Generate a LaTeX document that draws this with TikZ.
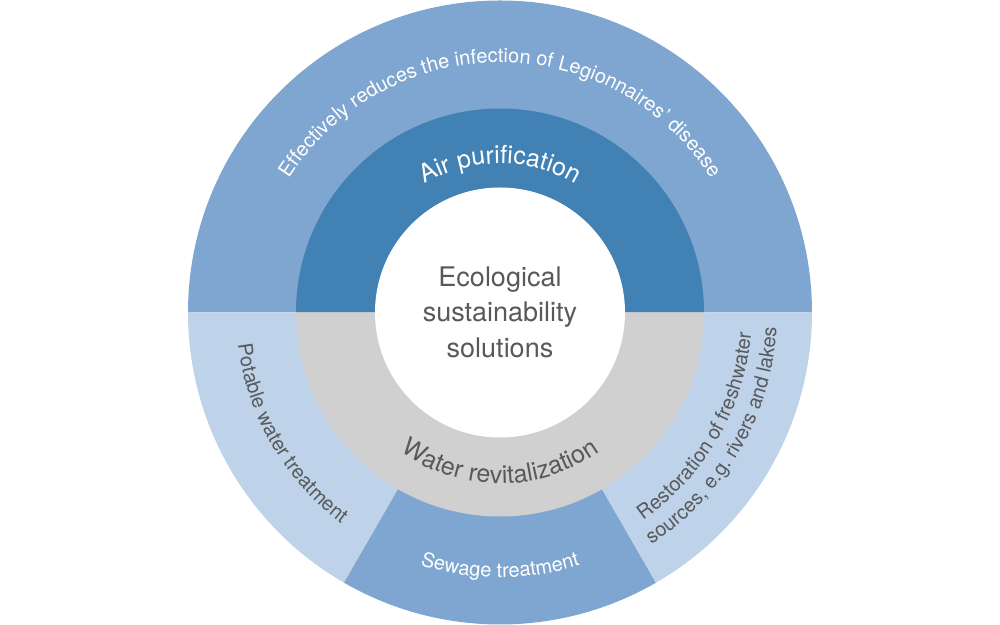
\documentclass[tikz,border=0pt]{standalone}
\usepackage{fontspec}
\setmainfont{TeX Gyre Heros}
\usetikzlibrary{decorations.text}

\definecolor{ringblue}{RGB}{127,166,208}
\definecolor{airblue}{RGB}{66,129,180}
\definecolor{paleblue}{RGB}{190,211,233}
\definecolor{watergray}{RGB}{208,208,208}
\definecolor{txtgray}{RGB}{88,89,91}

\newcommand{\ringfont}{\fontsize{10}{12}\selectfont}
\newcommand{\midfont}{\fontsize{12.5}{15}\selectfont}
\newcommand{\hubfont}{\fontsize{13.5}{17.7}\selectfont}

\begin{document}
\begin{tikzpicture}[x=0.5pt, y=0.5pt,
    arctext/.style={decorate, decoration={text along path, text align=center, text color=#1}}]
    \useasboundingbox (-500,-312.5) rectangle (500,312.5);

    % outer ring
    \fill[ringblue] (0,0) -- (0:312) arc[start angle=0, end angle=180, radius=312] -- cycle;
    \fill[paleblue] (0,0) -- (180:312) arc[start angle=180, end angle=240, radius=312] -- cycle;
    \fill[ringblue] (0,0) -- (240:312) arc[start angle=240, end angle=300, radius=312] -- cycle;
    \fill[paleblue] (0,0) -- (300:312) arc[start angle=300, end angle=360, radius=312] -- cycle;

    % middle ring
    \fill[airblue] (0,0) -- (0:204) arc[start angle=0, end angle=180, radius=204] -- cycle;
    \fill[watergray] (0,0) -- (180:204) arc[start angle=180, end angle=360, radius=204] -- cycle;

    % hub
    \fill[white] (0,0) circle[radius=125];
    \node[align=center, text=txtgray, font=\hubfont] (hub) at (0,0.5)
        {Ecological\\sustainability\\solutions};

    % middle labels
    \path[arctext=white, decoration={text={|\midfont|Air purification}}]
        (160:149) arc[start angle=160, end angle=20, radius=149];
    \path[arctext=txtgray, decoration={text={|\midfont|Water revitalization}}]
        (200:171) arc[start angle=200, end angle=340, radius=171];

    % outer labels
    \path[arctext=white, decoration={text={|\ringfont|Effectively reduces the infection of Legionnaires’ disease}}]
        (170:250) arc[start angle=170, end angle=10, radius=250];
    \path[arctext=txtgray, decoration={text={|\ringfont|Potable water treatment}}]
        (180:264) arc[start angle=180, end angle=240, radius=264];
    \path[arctext=white, decoration={text={|\ringfont|Sewage treatment}}]
        (240:265) arc[start angle=240, end angle=300, radius=265];
    \path[arctext=txtgray, decoration={text={|\ringfont|Restoration of freshwater}}]
        (300:252) arc[start angle=300, end angle=360, radius=252];
    \path[arctext=txtgray, decoration={text={|\ringfont|sources, e.g. rivers and lakes}}]
        (300:277) arc[start angle=300, end angle=360, radius=277];

\end{tikzpicture}
\end{document}
